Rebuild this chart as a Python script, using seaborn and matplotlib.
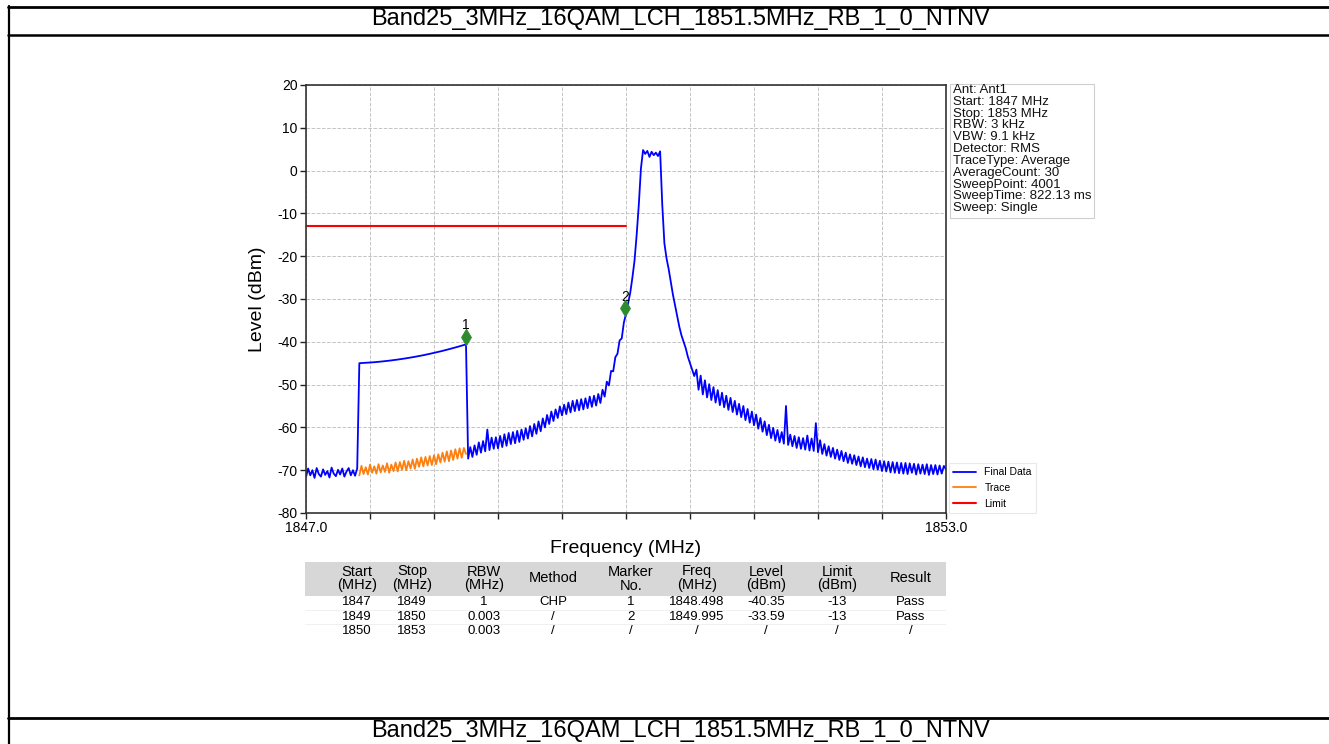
import numpy as np
import matplotlib
matplotlib.use("Agg")
import matplotlib.pyplot as plt
from matplotlib.lines import Line2D
from matplotlib.patches import Rectangle
import seaborn as sns

sns.set_style("ticks")
plt.rcParams['font.family'] = ['Liberation Sans', 'DejaVu Sans']
plt.rcParams['axes.unicode_minus'] = False
plt.rcParams['text.color'] = 'black'
plt.rcParams['axes.labelcolor'] = 'black'
plt.rcParams['xtick.color'] = 'black'
plt.rcParams['ytick.color'] = 'black'

page_title = 'Band25_3MHz_16QAM_LCH_1851.5MHz_RB_1_0_NTNV'

# sweep 1847..1853 MHz, levels in dBm (0.02 MHz steps)
sweep_start, sweep_stop = 1847.0, 1853.0
final_level = [
    -71.6, -69.6, -71.2, -70.0, -71.8, -69.5, -70.9, -71.5, -69.8, -71.1,
    -70.2, -71.7, -69.4, -70.8, -71.4, -69.9, -71.0, -69.6, -71.5, -70.3,
    -69.5, -71.2, -70.0, -71.3, -69.6,
    # CHP integration curve 1847.5 .. 1848.5
    -45.00, -44.97, -44.95, -44.92, -44.88, -44.85, -44.81, -44.77, -44.73, -44.68,
    -44.63, -44.58, -44.53, -44.47, -44.41, -44.35, -44.29, -44.22, -44.15, -44.08,
    -44.01, -43.93, -43.85, -43.77, -43.69, -43.60, -43.51, -43.42, -43.32, -43.23,
    -43.13, -43.03, -42.92, -42.81, -42.70, -42.59, -42.48, -42.36, -42.24, -42.12,
    -41.99, -41.86, -41.73, -41.60, -41.47, -41.33, -41.19, -41.04, -40.90, -40.75,
    -40.60,
    # 1848.52 .. 1849.98
    -67.3, -64.6, -66.9, -64.2, -66.4, -63.5, -65.9, -63.2, -65.6, -60.5,
    -65.3, -62.4, -65.0, -62.3, -64.9, -62.0, -64.6, -61.6, -64.3, -61.3,
    -63.9, -61.1, -63.7, -60.8, -63.4, -60.5, -62.9, -60.2, -62.6, -59.7,
    -62.1, -59.2, -61.5, -58.6, -60.9, -57.9, -60.0, -57.1, -59.2, -56.3,
    -58.5, -55.8, -57.8, -55.1, -57.2, -54.7, -56.9, -54.2, -56.5, -53.8,
    -56.2, -53.6, -56.0, -53.4, -55.8, -53.2, -55.5, -52.8, -55.2, -52.6,
    -54.9, -52.2, -54.3, -51.2, -52.8, -49.3, -50.2, -46.8, -46.9, -43.6,
    -42.8, -39.7, -39.2, -35.5,
    # 1850.00 .. 1850.64 (carrier)
    -33.5, -31.0, -28.5, -25.0, -21.0, -15.0, -8.0, 0.5, 4.8, 3.9,
    4.6, 3.2, 4.4, 3.6, 4.2, 3.4, 4.5, -8.0, -17.0, -20.5,
    -23.0, -26.0, -29.0, -31.5, -34.0, -36.5, -38.5, -40.0, -41.5, -43.5,
    -45.0, -46.5, -48.0,
    # 1850.66 .. 1853.00
    -46.5, -51.2, -47.9, -52.3, -49.0, -53.0, -49.9, -53.6, -50.6, -54.2,
    -51.3, -54.8, -51.9, -55.3, -52.6, -55.9, -53.1,
    -56.4, -53.8, -57.0, -54.5, -57.6, -55.0, -58.3, -55.7, -58.9, -56.3,
    -59.5, -57.0, -60.3, -57.8, -61.0, -58.6, -61.8, -59.4, -62.5, -60.1,
    -63.1, -60.6, -63.5, -61.1, -63.8, -55.0, -64.1, -61.7, -64.4, -62.0,
    -64.8, -62.3, -65.0, -62.5, -65.2, -61.9, -65.4, -62.6, -65.5, -59.0,
    -65.8, -63.0, -66.2, -63.9, -66.6, -64.4, -66.9, -64.8, -67.3, -65.2,
    -67.6, -65.5, -67.9, -65.9, -68.3, -66.3, -68.5, -66.5, -68.8, -66.8,
    -69.1, -67.0, -69.3, -67.3, -69.5, -67.4, -69.8, -67.5, -69.9, -67.8,
    -70.2, -67.9, -70.3, -68.0, -70.5, -68.1, -70.6, -68.2, -70.7, -68.3,
    -70.8, -68.3, -70.9, -68.4, -70.6, -68.5, -71.0, -68.6, -70.8, -68.7,
    -70.9, -68.6, -71.1, -68.8, -70.9, -68.8, -71.0, -68.9, -70.8, -69.0,
    -69.8,
]

trace_start, trace_stop = 1847.5, 1848.5
trace_level = [
    -71.2, -69.0, -70.9, -69.3, -71.0, -68.7, -70.6, -69.1, -70.8, -68.6,
    -70.5, -68.9, -70.4, -68.4, -70.6, -68.7, -70.2, -68.2, -70.3, -68.1,
    -69.9, -67.8, -70.0, -67.9, -69.6, -67.5, -69.7, -67.3, -69.2, -67.0,
    -69.1, -66.9, -68.9, -66.7, -68.8, -66.5, -68.6, -66.3, -68.2, -65.9,
    -68.0, -65.6, -67.9, -65.4, -67.6, -65.1, -67.3, -64.9, -67.1, -64.8,
    -66.2,
]

limit_freq = [1847.0, 1850.0]
limit_level = [-13, -13]

marker_no = ['1', '2']
marker_freq = [1848.498, 1849.995]
marker_level = [-38.8, -32.2]

info_lines = [
    'Ant: Ant1', 'Start: 1847 MHz', 'Stop: 1853 MHz', 'RBW: 3 kHz',
    'VBW: 9.1 kHz', 'Detector: RMS', 'TraceType: Average',
    'AverageCount: 30', 'SweepPoint: 4001', 'SweepTime: 822.13 ms',
    'Sweep: Single',
]

col_head = ['Start\n(MHz)', 'Stop\n(MHz)', 'RBW\n(MHz)', 'Method', 'Marker\nNo.',
            'Freq\n(MHz)', 'Level\n(dBm)', 'Limit\n(dBm)', 'Result']
col_start = ['1847', '1849', '1850']
col_stop = ['1849', '1850', '1853']
col_rbw = ['1', '0.003', '0.003']
col_method = ['CHP', '/', '/']
col_marker = ['1', '2', '/']
col_freq = ['1848.498', '1849.995', '/']
col_level = ['-40.35', '-33.59', '/']
col_limit = ['-13', '-13', '/']
col_result = ['Pass', 'Pass', '/']

W, H = 1329, 744
fig = plt.figure(figsize=(W / 100, H / 100), dpi=100)


def fx(px):
    return px / W


def fy(py):
    return 1 - py / H


# page frame (document table cell)
for x0, y0, x1, y1, lw in [(8, 6.5, W, 6.5, 2.0), (8.5, 6, 8.5, H, 1.6),
                           (8, 35, W, 35, 1.8), (8, 717.5, W, 717.5, 2.0)]:
    fig.add_artist(Line2D([fx(x0), fx(x1)], [fy(y0), fy(y1)], color='black',
                          lw=lw, transform=fig.transFigure))
fig.text(fx(680), fy(19), page_title, ha='center', va='center', fontsize=17)
fig.text(fx(680), fy(731), page_title, ha='center', va='center', fontsize=17)

ax = fig.add_axes([fx(306), fy(513), 640 / W, 428 / H])

final_freq = np.linspace(sweep_start, sweep_stop, len(final_level))
trace_freq = np.linspace(trace_start, trace_stop, len(trace_level))

sns.lineplot(x=final_freq, y=final_level, ax=ax, color='#0000ff', lw=1.3,
             label='Final Data', estimator=None, sort=False)
sns.lineplot(x=trace_freq, y=trace_level, ax=ax, color='#ff7f0e', lw=1.3,
             label='Trace', estimator=None, sort=False)
sns.lineplot(x=limit_freq, y=limit_level, ax=ax, color='#ff0000', lw=1.5,
             label='Limit', estimator=None, sort=False)
sns.scatterplot(x=marker_freq, y=marker_level, ax=ax, marker='d', s=70,
                color='#2e8b2e', edgecolor='#2e8b2e', zorder=5, legend=False)
for n, f, lv in zip(marker_no, marker_freq, marker_level):
    ax.annotate(n, (f, lv), xytext=(0, 3), textcoords='offset points',
                ha='center', va='bottom', fontsize=10)

ax.set_xlim(sweep_start, sweep_stop)
ax.set_ylim(-80, 20)
xt = np.linspace(sweep_start, sweep_stop, 11)
ax.set_xticks(xt)
ax.set_xticklabels(['1847.0'] + [''] * 9 + ['1853.0'])
ax.set_yticks(np.arange(-80, 21, 10))
ax.tick_params(axis='both', labelsize=10, length=4, width=1, pad=2, color='#222222')
ax.grid(True, ls='--', color='#c4c4c4', lw=0.7)
for s in ax.spines.values():
    s.set_visible(True)
    s.set_color('#333333')
    s.set_linewidth(1.2)

ax.set_xlabel('Frequency (MHz)', fontsize=14)
ax.set_ylabel('Level (dBm)', fontsize=14)
ax.xaxis.set_label_coords(0.5, -0.063)
ax.yaxis.set_label_coords(-0.062, 0.5)

leg = ax.legend(loc='lower left', bbox_to_anchor=(fx(949), fy(513)),
                bbox_transform=fig.transFigure, fontsize=7.5, frameon=True,
                handlelength=2.2, handletextpad=0.8, labelspacing=0.55,
                borderaxespad=0, fancybox=False)
leg.get_frame().set_edgecolor('#e4e4e4')
leg.get_frame().set_linewidth(0.8)

# info box
fig.add_artist(Rectangle((fx(950), fy(218)), 144 / W, 134 / H, transform=fig.transFigure,
                         facecolor='white', edgecolor='#cfcfcf', lw=0.8))
fig.text(fx(953), fy(84), '\n'.join(info_lines), ha='left', va='top',
         fontsize=9.5, linespacing=0.98, color='#111111')

# result table under the plot
tab = fig.add_axes([fx(305), fy(640), 641 / W, 78 / H])
tab.set_xlim(0, 641)
tab.set_ylim(78, 0)
tab.axis('off')
tab.add_patch(Rectangle((0, 0), 641, 34, facecolor='#d7d7d7', edgecolor='none'))
col_x = [52, 107, 179, 248, 326, 392, 461, 532, 606]
columns = [col_start, col_stop, col_rbw, col_method, col_marker, col_freq,
           col_level, col_limit, col_result]
for cx, head, col in zip(col_x, col_head, columns):
    tab.text(cx, 16.5, head, ha='center', va='center', fontsize=10.5, linespacing=1.0)
    for r, val in enumerate(col):
        tab.text(cx, 40 + 14.5 * r, val, ha='center', va='center', fontsize=9.5)
for ry in [47.5, 62]:
    tab.axhline(ry, color='#eeeeee', lw=0.6)

fig.savefig('out.png', dpi=100, facecolor='white')
